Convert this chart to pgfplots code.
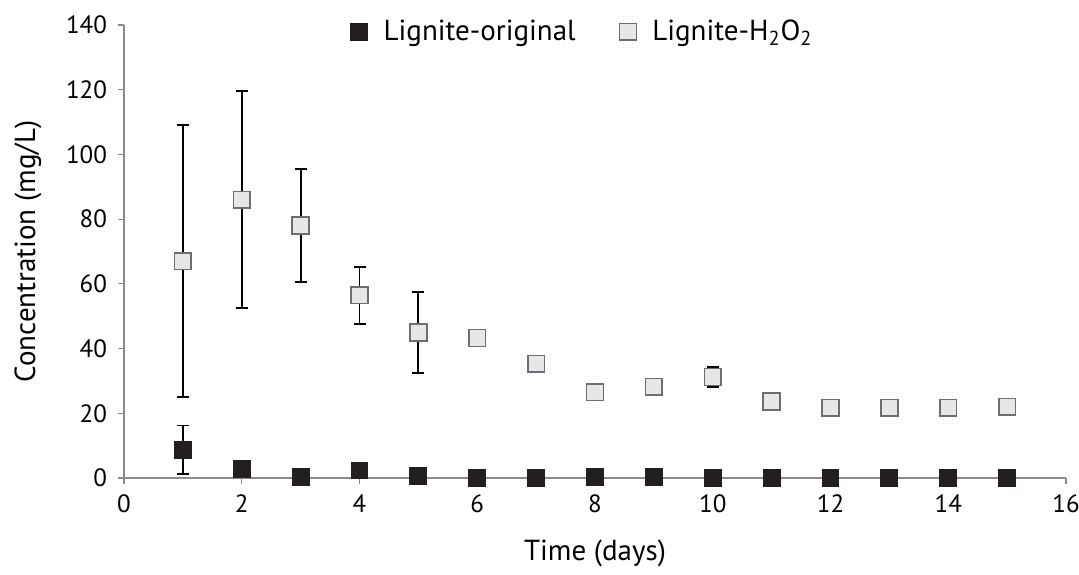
\documentclass[border=0pt]{standalone}
\usepackage{fontspec}
\setmainfont{PT Sans}
\usepackage{pgfplots}
\pgfplotsset{compat=1.18}
\usepackage{pgfplotstable}
\definecolor{dark}{HTML}{231F20}
\definecolor{light}{HTML}{E6E7E8}
\definecolor{edge}{HTML}{6D6E71}
\definecolor{axgray}{HTML}{8A8A8A}
\pgfplotstableread{
x y e
1 8.7 7.5
2 2.8 0
3 0.4 0
4 2.3 0
5 0.6 0
6 0.1 0
7 0 0
8 0.4 0
9 0.4 0
10 0.1 0
11 0 0
12 0 0
13 0 0
14 0 0
15 0.1 0
}\orig
\pgfplotstableread{
x y e
1 67 42
2 86 33.5
3 78 17.5
4 56.5 8.8
5 45 12.5
6 43.3 2.5
7 35.3 0
8 26.5 0
9 28.2 0
10 31.2 3
11 23.7 0
12 21.7 0
13 21.7 0
14 21.7 0
15 22 0
}\hto
\begin{document}
\begin{tikzpicture}
\begin{axis}[
  scale only axis,
  width=471pt, height=226.5pt,
  xmin=0, xmax=16, ymin=0, ymax=140,
  xtick={0,2,...,16}, ytick={0,20,...,140},
  axis lines*=left,
  axis line style={axgray, line width=0.6pt},
  tick style={axgray, line width=0.6pt},
  tick align=outside,
  major tick length=3pt,
  minor tick num=0,
  clip=false,
  /pgf/number format/assume math mode=true,
  tick label style={font=\fontsize{12.5}{14}\selectfont, black},
  yticklabel style={xshift=-2pt},
  xticklabel style={yshift=-2pt},
  xlabel={Time (days)},
  ylabel={Concentration (mg/L)},
  label style={font=\fontsize{14.5}{17}\selectfont},
  xlabel style={at={(axis description cs:0.5,-0.166)}, anchor=center},
  ylabel style={at={(axis description cs:-0.102,0.5)}, anchor=center},
  legend style={draw=none, fill=none, at={(0.488,0.985)}, anchor=center,
    font=\fontsize{14.5}{17}\selectfont, legend columns=2,
    /tikz/every odd column/.append style={column sep=6pt},
    /tikz/every even column/.append style={column sep=20pt}},
  legend cell align=left,
]
\addplot[only marks, mark=none, forget plot,
  error bars/.cd, y dir=both, y explicit, error mark=-,
  error bar style={black, line width=0.9pt},
  error mark options={black, line width=0.9pt, mark size=3pt, rotate=90}]
  table[x=x, y=y, y error=e] {\orig};
\addplot[only marks, mark=none, forget plot,
  error bars/.cd, y dir=both, y explicit, error mark=-,
  error bar style={black, line width=0.9pt},
  error mark options={black, line width=0.9pt, mark size=3pt, rotate=90}]
  table[x=x, y=y, y error=e] {\hto};
\addplot[only marks, mark=square*, mark size=4.2pt,
  mark options={fill=dark, draw=dark, line width=0.5pt}]
  table[x=x, y=y] {\orig};
\addlegendentry{Lignite-original}
\addplot[only marks, mark=square*, mark size=4.2pt,
  mark options={fill=light, draw=edge, line width=0.8pt}]
  table[x=x, y=y] {\hto};
\addlegendentry{Lignite-H\textsubscript{2}O\textsubscript{2}}
\coordinate (ll) at (rel axis cs:0,0);
\coordinate (ur) at (rel axis cs:1,1);
\end{axis}
\pgfresetboundingbox
\path ([shift={(-62pt,-48pt)}]ll) rectangle ([shift={(6.5pt,12.5pt)}]ur);
\end{tikzpicture}
\end{document}
